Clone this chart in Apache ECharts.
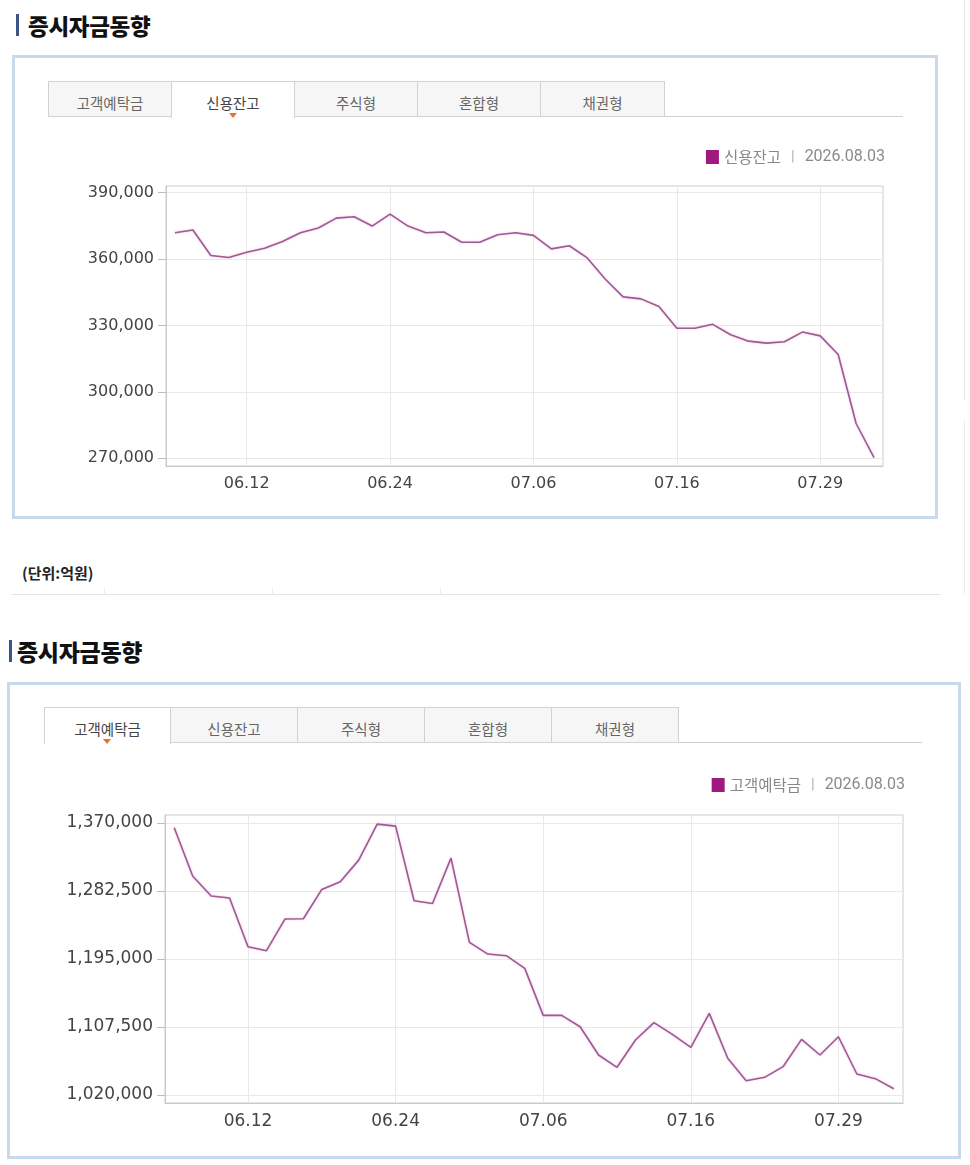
<!DOCTYPE html>
<html>
<head>
<meta charset="utf-8">
<script src="https://cdn.jsdelivr.net/npm/echarts@6.0.0/dist/echarts.min.js"></script>
<style>
  html, body { margin:0; padding:0; background:#fff; }
  body { width:970px; height:1165px; position:relative; overflow:hidden; font-family:'Noto Sans CJK KR', sans-serif; }
  .abs { position:absolute; }
  .bar { background:#3a5585; width:3px; }
  .title { font-weight:900; color:#111; white-space:nowrap; letter-spacing:-0.3px; }
  .box { box-sizing:border-box; border:3px solid #c9d9ec; background:#fff; }
  .tab { box-sizing:border-box; border:1px solid #d2d2d2; background:#f6f6f6; color:#666; font-size:14.5px; text-align:center; }
  .tab.on { background:#fff; border-bottom:none; color:#444; }
  .uline { height:1px; background:#cfcfcf; }
  .tri { width:0; height:0; border-left:4px solid transparent; border-right:4px solid transparent; border-top:5px solid #e4742f; }
  #chart { position:absolute; left:0; top:0; width:970px; height:1165px; }
</style>
</head>
<body>
<!-- section 1 chrome -->
<div class="abs bar" style="left:16px;top:14px;height:22px;"></div>
<div class="abs title" style="left:28px;top:12px;font-size:22.5px;line-height:27px;">증시자금동향</div>
<div class="abs box" style="left:12px;top:55px;width:926px;height:464px;"></div>
<div class="abs uline" style="left:48px;top:116px;width:855px;"></div>
<div id="tabs1"></div>
<div class="abs" style="left:22px;top:562px;font-size:15px;font-weight:700;color:#222;line-height:22px;">(단위:억원)</div>
<div class="abs" style="left:12px;top:594px;width:928px;height:1px;background:#e4e4e4;"></div>
<div class="abs" style="left:104px;top:588px;width:1px;height:7px;background:#eee;"></div>
<div class="abs" style="left:272px;top:588px;width:1px;height:7px;background:#eee;"></div>
<div class="abs" style="left:440px;top:588px;width:1px;height:7px;background:#eee;"></div>
<div class="abs" style="left:964px;top:0px;width:1px;height:400px;background:#e6e6e6;"></div>
<div class="abs" style="left:964px;top:420px;width:1px;height:175px;background:#ececec;"></div>
<!-- section 2 chrome -->
<div class="abs bar" style="left:9px;top:640px;height:22px;"></div>
<div class="abs title" style="left:17px;top:637px;font-size:23px;line-height:28px;">증시자금동향</div>
<div class="abs box" style="left:7px;top:682px;width:954px;height:477px;"></div>
<div class="abs uline" style="left:44px;top:742px;width:878px;"></div>
<div id="tabs2"></div>

<div id="chart"></div>
<script>
// ---------------- data ----------------
const tabNames = ['고객예탁금', '신용잔고', '주식형', '혼합형', '채권형'];
const dates = [
  '2026.06.08','2026.06.09','2026.06.10','2026.06.11','2026.06.12',
  '2026.06.15','2026.06.16','2026.06.17','2026.06.18','2026.06.19',
  '2026.06.22','2026.06.23','2026.06.24','2026.06.25','2026.06.26',
  '2026.06.29','2026.06.30','2026.07.01','2026.07.02','2026.07.03',
  '2026.07.06','2026.07.07','2026.07.08','2026.07.09','2026.07.10',
  '2026.07.13','2026.07.14','2026.07.15','2026.07.16','2026.07.20',
  '2026.07.21','2026.07.22','2026.07.23','2026.07.24','2026.07.27',
  '2026.07.28','2026.07.29','2026.07.30','2026.07.31','2026.08.03'
];
// 신용잔고 (억원)
const creditBalance = [
  371900, 373100, 361600, 360700, 363100, 364900, 367900, 371900, 374000, 378500,
  379100, 374900, 380300, 374900, 371900, 372200, 367600, 367600, 371000, 371900,
  370700, 364600, 366000, 360500, 351000, 342900, 342000, 338600, 328700, 328700,
  330500, 325800, 322900, 322000, 322600, 327000, 325300, 316900, 285700, 270300
];
// 고객예탁금 (억원)
const customerDeposit = [
  1363600, 1301500, 1275800, 1273200, 1210600, 1205500, 1246200, 1246600, 1284300, 1294200,
  1322000, 1368300, 1365700, 1269800, 1266300, 1324600, 1216200, 1201200, 1199100, 1182800,
  1122400, 1122400, 1107800, 1071400, 1055600, 1090700, 1113000, 1098000, 1081300, 1125000,
  1067200, 1038400, 1042700, 1056400, 1091500, 1071400, 1094900, 1047000, 1041000, 1028100
];
const creditTicks = [270000, 300000, 330000, 360000, 390000];
const depositTicks = [1020000, 1107500, 1195000, 1282500, 1370000];

// ---------------- tabs (HTML chrome) ----------------
function buildTabs(id, top, bounds, active, triX) {
  const host = document.getElementById(id);
  tabNames.forEach((n, i) => {
    const d = document.createElement('div');
    d.className = 'abs tab' + (i === active ? ' on' : '');
    d.style.left = bounds[i] + 'px';
    d.style.top = top + 'px';
    d.style.width = (bounds[i + 1] - bounds[i] + 1) + 'px';
    d.style.height = (i === active ? 37 : 36) + 'px';
    d.style.lineHeight = '41px';
    d.textContent = n;
    host.appendChild(d);
  });
  const t = document.createElement('div');
  t.className = 'abs tri';
  t.style.left = (triX - 4) + 'px';
  t.style.top = (top + 32) + 'px';
  host.appendChild(t);
}
buildTabs('tabs1', 81, [48, 171, 294, 417, 540, 664], 1, 233);
buildTabs('tabs2', 707, [44, 170, 297, 424, 551, 678], 0, 107);

// ---------------- chart ----------------
const lastDate = dates[dates.length - 1];
const shortDates = dates.map(d => d.slice(5));
const showIdx = (i) => i % 8 === 4;
const fmt = v => Number(v).toLocaleString('en-US');

function xAxis(gridIndex, fs) {
  return {
    type: 'category', gridIndex, data: shortDates, boundaryGap: true,
    axisLine: { show: true, lineStyle: { color: '#c9c9c9' } },
    axisTick: { show: false, alignWithLabel: true, interval: showIdx },
    axisLabel: { interval: showIdx, color: '#444', fontSize: fs, fontFamily: 'DejaVu Sans', margin: 10 },
    splitLine: { show: true, interval: showIdx, alignWithLabel: true, lineStyle: { color: '#e9e9e9', width: 1 } }
  };
}
function yAxis(gridIndex, min, max, ticks, fs) {
  return {
    type: 'value', gridIndex, min, max,
    axisLine: { show: true, lineStyle: { color: '#c9c9c9' } },
    axisTick: { show: true, length: 8, customValues: ticks, lineStyle: { color: '#bdbdbd' } },
    axisLabel: { customValues: ticks, formatter: fmt, color: '#444', fontSize: fs, fontFamily: 'DejaVu Sans', margin: 12 },
    splitLine: { show: true, lineStyle: { color: '#e9e9e9', width: 1 } }
  };
}
function legend(name, top, right) {
  return {
    data: [name], top, right, icon: 'rect', itemWidth: 13, itemHeight: 14, itemGap: 0,
    selectedMode: false,
    formatter: n => '{n|' + n + '}{s||}{d|' + lastDate + '}',
    textStyle: {
      fontSize: 15, color: '#888',
      rich: {
        n: { fontSize: 15.5, color: '#888', fontFamily: 'Noto Sans CJK KR' },
        s: { fontSize: 15, color: '#b0b0b0', padding: [0, 10], fontFamily: 'Roboto' },
        d: { fontSize: 16, color: '#8a8a8a', fontFamily: 'Roboto' }
      }
    }
  };
}
const lineStyle = { color: '#9c5e91', width: 1.6, shadowColor: 'rgba(240,160,225,0.8)', shadowBlur: 2 };

const chart = echarts.init(document.getElementById('chart'), null, { renderer: 'canvas' });
chart.setOption({
  animation: false,
  backgroundColor: 'transparent',
  legend: [legend('신용잔고', 144, 80), legend('고객예탁금', 772, 60)],
  grid: [
    { left: 166, top: 186, width: 717, height: 280, show: true, borderColor: '#cdcdcd', borderWidth: 1, containLabel: false },
    { left: 165, top: 815, width: 738, height: 288, show: true, borderColor: '#cdcdcd', borderWidth: 1, containLabel: false }
  ],
  xAxis: [xAxis(0, 16), xAxis(1, 17)],
  yAxis: [yAxis(0, 266500, 393000, creditTicks, 16), yAxis(1, 1009700, 1380000, depositTicks, 17)],
  series: [
    { name: '신용잔고', type: 'line', xAxisIndex: 0, yAxisIndex: 0, data: creditBalance,
      symbol: 'none', itemStyle: { color: '#a0197f' }, lineStyle },
    { name: '고객예탁금', type: 'line', xAxisIndex: 1, yAxisIndex: 1, data: customerDeposit,
      symbol: 'none', itemStyle: { color: '#a0197f' }, lineStyle }
  ]
});
</script>
</body>
</html>
